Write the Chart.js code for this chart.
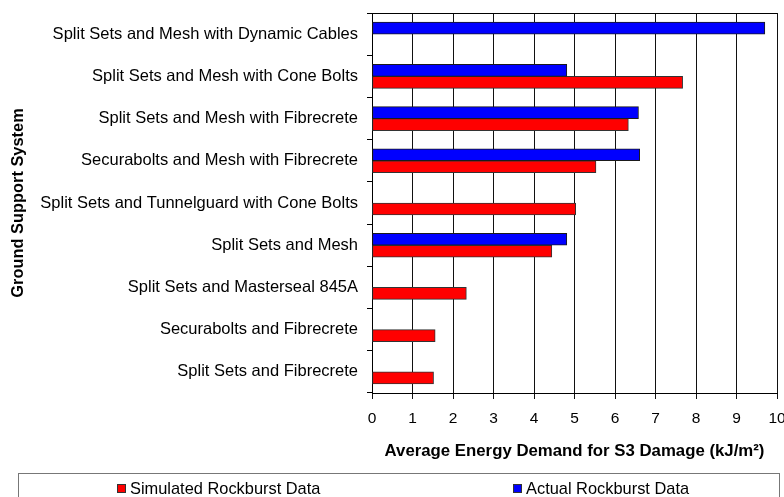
<!DOCTYPE html>
<html>
<head>
<meta charset="utf-8">
<script src="https://cdn.jsdelivr.net/npm/chart.js@4"></script>
<style>
  body { margin: 0; background: #fff; font-family: "Liberation Sans", Arial, sans-serif; }
  #wrap { position: relative; width: 784px; height: 497px; overflow: hidden; }
  #legend {
    position: absolute; left: 18px; top: 473px; width: 762px; height: 40px;
    border: 1px solid #777; box-sizing: border-box;
  }
  .item { position: absolute; top: 5px; font-size: 16.4px; color: #000; line-height: 18px; white-space: nowrap; }
  .swatch { display: inline-block; width: 7px; height: 7px; border: 1px solid #333; margin-right: 4px; vertical-align: 1px; }
</style>
</head>
<body>
<div id="wrap">
  <canvas id="chart" width="784" height="497"></canvas>
  <div id="legend">
    <span class="item" style="left: 98px"><span class="swatch" style="background:#ff0000"></span>Simulated Rockburst Data</span>
    <span class="item" style="left: 494px"><span class="swatch" style="background:#0000ff"></span>Actual Rockburst Data</span>
  </div>
</div>
<script>
const categories = [
  "Split Sets and Mesh with Dynamic Cables",
  "Split Sets and Mesh with Cone Bolts",
  "Split Sets and Mesh with Fibrecrete",
  "Securabolts and Mesh with Fibrecrete",
  "Split Sets and Tunnelguard with Cone Bolts",
  "Split Sets and Mesh",
  "Split Sets and Masterseal 845A",
  "Securabolts and Fibrecrete",
  "Split Sets and Fibrecrete",
];
const actualData = [9.7, 4.81, 6.58, 6.61, null, 4.81, null, null, null];
const simulatedData = [null, 7.67, 6.33, 5.53, 5.03, 4.44, 2.33, 1.56, 1.52];
const xTicks = [0, 1, 2, 3, 4, 5, 6, 7, 8, 9, 10];

Chart.defaults.font.family = '"Liberation Sans", Arial, sans-serif';
Chart.defaults.color = "#000";

const plotFrame = {
  id: "plotFrame",
  afterDraw(chart) {
    const { ctx, chartArea } = chart;
    ctx.save();
    ctx.strokeStyle = "#000";
    ctx.lineWidth = 1;
    ctx.beginPath();
    ctx.moveTo(chartArea.left, Math.round(chartArea.top) + 0.5);
    ctx.lineTo(chartArea.right, Math.round(chartArea.top) + 0.5);
    ctx.stroke();
    ctx.restore();
  },
};

new Chart(document.getElementById("chart").getContext("2d"), {
  type: "bar",
  plugins: [plotFrame],
  data: {
    labels: categories,
    datasets: [
      {
        label: "Actual Rockburst Data",
        data: actualData,
        backgroundColor: "#0000ff",
        borderColor: "#1a1a1a",
        borderWidth: 1,
        borderSkipped: false,
        barThickness: 12,
      },
      {
        label: "Simulated Rockburst Data",
        data: simulatedData,
        backgroundColor: "#ff0000",
        borderColor: "#333",
        borderWidth: 1,
        borderSkipped: false,
        barThickness: 12,
      },
    ],
  },
  options: {
    indexAxis: "y",
    responsive: false,
    animation: false,
    layout: { padding: { top: 13, right: 7, bottom: 0, left: 0 } },
    scales: {
      x: {
        min: 0,
        max: 10,
        afterBuildTicks: (scale) => {
          scale.ticks = xTicks.map((v) => ({ value: v }));
        },
        afterFit: (scale) => {
          scale.height = 104;
          scale.paddingLeft = 0;
          scale.paddingRight = 0;
        },
        grid: { color: "#111", lineWidth: 1, tickLength: 6 },
        border: { color: "#000" },
        ticks: { font: { size: 15.5 }, padding: 10, color: "#000" },
        title: {
          display: true,
          text: "Average Energy Demand for S3 Damage (kJ/m²)",
          font: { size: 16.8, weight: "bold" },
          padding: { top: 0, bottom: 36 },
          color: "#000",
        },
      },
      y: {
        afterFit: (scale) => {
          scale.width = 372;
          scale.paddingTop = 0;
          scale.paddingBottom = 0;
        },
        grid: { drawOnChartArea: false, color: "#000", tickLength: 5 },
        border: { color: "#000" },
        ticks: { font: { size: 16.5 }, padding: 9, color: "#000", autoSkip: false },
        title: {
          display: true,
          text: "Ground Support System",
          font: { size: 16.4, weight: "bold" },
          padding: { top: 9, bottom: 0 },
          color: "#000",
        },
      },
    },
    plugins: {
      legend: { display: false },
      tooltip: { enabled: false },
    },
  },
});
</script>
</body>
</html>
